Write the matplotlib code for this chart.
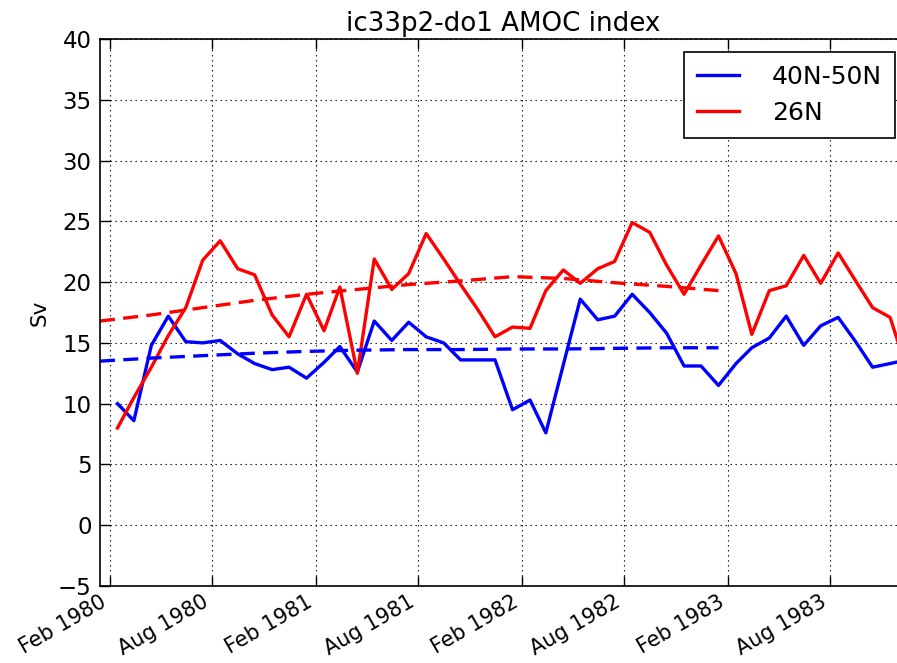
import datetime as dt
import numpy as np
import matplotlib
matplotlib.use("Agg")
import matplotlib.pyplot as plt
import matplotlib.dates as mdates

# monthly AMOC index (Sv), Feb 1980 onwards, mid-month
start_year = 1980
start_month = 2
amoc_4050 = [10.0, 8.6, 14.8, 17.2, 15.1, 15.0, 15.2, 14.1, 13.3, 12.8,
             13.0, 12.1, 13.4, 14.7, 12.6, 16.8, 15.2, 16.7, 15.5, 15.0,
             13.6, 13.6, 13.6, 9.5, 10.3, 7.6, 13.2, 18.6, 16.9, 17.2,
             19.0, 17.5, 15.8, 13.1, 13.1, 11.5, 13.3, 14.6, 15.4, 17.2,
             14.8, 16.4, 17.1, 15.1, 13.0, 13.3, 13.6]
amoc_26 = [8.0, 10.5, 13.0, 15.6, 17.9, 21.8, 23.4, 21.1, 20.6, 17.3,
           15.5, 19.0, 16.0, 19.6, 12.5, 21.9, 19.4, 20.7, 24.0, 21.9,
           19.8, 17.7, 15.5, 16.3, 16.2, 19.3, 21.0, 19.9, 21.1, 21.7,
           24.9, 24.1, 21.4, 19.0, 21.4, 23.8, 20.7, 15.7, 19.3, 19.7,
           22.2, 19.9, 22.4, 20.1, 17.9, 17.1, 12.8]

# trend curves, quarterly from Jan 1980 to Jan 1983
trend_4050 = [13.5, 13.75, 13.95, 14.15, 14.3, 14.4, 14.45, 14.45, 14.5,
              14.5, 14.55, 14.6, 14.6]
trend_26 = [16.8, 17.3, 17.9, 18.5, 19.0, 19.4, 19.8, 20.1, 20.45, 20.3,
            19.95, 19.65, 19.3]


def month_dates(y, m, n, step=1):
    out = []
    for i in range(n):
        mm = m - 1 + i * step
        out.append(dt.datetime(y + mm // 12, mm % 12 + 1, 15))
    return out


t = month_dates(start_year, start_month, len(amoc_26))
t_trend = month_dates(1980, 1, len(trend_26), step=3)

fig = plt.figure(figsize=(8.97, 6.63), dpi=100)
ax = fig.add_axes([100 / 897, 77 / 663, 807 / 897, 547 / 663])

lw = 2.4
ax.plot(t, amoc_4050, color='b', lw=lw, label='40N-50N')
ax.plot(t, amoc_26, color='r', lw=lw, label='26N')
ax.plot(t_trend, trend_4050, color='b', lw=lw, dashes=(4.5, 2.5))
ax.plot(t_trend, trend_26, color='r', lw=lw, dashes=(4.5, 2.5))

ax.set_xlim(dt.datetime(1980, 1, 15), dt.datetime(1983, 12, 15))
ax.set_ylim(-5, 40)
ax.set_yticks(np.arange(-5, 41, 5))
ax.xaxis.set_major_locator(mdates.MonthLocator(bymonth=[2, 8]))
ax.xaxis.set_major_formatter(mdates.DateFormatter('%b %Y'))

ax.grid(True, color='k', lw=0.8, linestyle=(0, (1.2, 3.3)))
ax.tick_params(direction='in', length=7, width=1, top=True, right=True)
ax.tick_params(axis='y', labelsize=16.5, pad=6)
ax.tick_params(axis='x', labelsize=15, pad=4)
for lab in ax.get_xticklabels():
    lab.set_rotation(30)
    lab.set_ha('right')
for s in ax.spines.values():
    s.set_linewidth(1.2)

ax.set_title('ic33p2-do1 AMOC index', fontsize=18.8, pad=6)
ax.set_ylabel('Sv', fontsize=15.5, labelpad=6)

leg = ax.legend(loc='upper right', bbox_to_anchor=(893 / 907, 1 - 13 / 547),
                fontsize=18, fancybox=False, framealpha=1, edgecolor='k',
                handlelength=1.7, handletextpad=1.3, borderaxespad=0,
                borderpad=0.5, labelspacing=0.5)
leg.get_frame().set_linewidth(1.2)

fig.savefig('out.png', dpi=100)
